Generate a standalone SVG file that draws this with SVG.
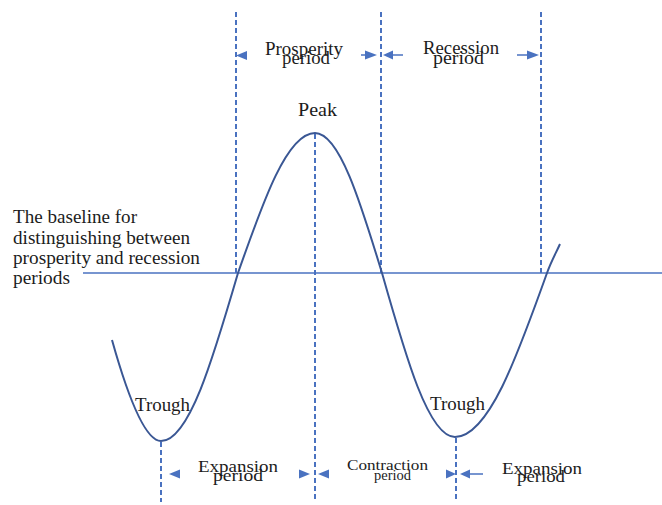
<svg xmlns="http://www.w3.org/2000/svg" width="662" height="505" viewBox="0 0 662 505">
<style>
.t{font-family:"Liberation Serif","Times New Roman",serif;fill:#1c1c1c}
.dash{stroke:#4a72c0;stroke-width:2;stroke-dasharray:5 3;fill:none}
.ah{fill:#4a72c0}
.tl{stroke:#4a72c0;stroke-width:1.5;fill:none}
</style>
<rect width="662" height="505" fill="#ffffff"/>
<g id="guides">
<line class="dash" x1="236" y1="12" x2="236" y2="275"/>
<line class="dash" x1="381" y1="12" x2="381" y2="275"/>
<line class="dash" x1="541" y1="12" x2="541" y2="275"/>
<line class="dash" x1="315" y1="134" x2="315" y2="502"/>
<line class="dash" x1="161" y1="442" x2="161" y2="502"/>
<line class="dash" x1="456" y1="438" x2="456" y2="502"/>
</g>
<g id="baseline">
<line x1="83" y1="273" x2="662" y2="273" stroke="#4a72c0" stroke-width="1.6"/>
</g>
<g id="cycle-curve">
<path d="M112,340 C128,397 145,441 161,441 C188.9,441 212.9,359.1 238,273 C263.1,201.3 287.1,133 315,133 C339.2,133 360.2,201.3 382,273 C405.8,357 428.6,437 455,437 C488.3,437 517,357 547,273 C551.3,261 556,253 560,244" fill="none" stroke="#3a5794" stroke-width="2"/>
</g>
<g id="connectors">
<path class="ah" d="M236,55.5 L247,51 L247,60 Z"/>
<line class="tl" x1="361" y1="55" x2="366" y2="55"/>
<path class="ah" d="M377,55 L365,50.5 L365,59.5 Z"/>
<path class="ah" d="M383,55 L393,50.5 L393,59.5 Z"/>
<line class="tl" x1="392" y1="55" x2="403" y2="55"/>
<line class="tl" x1="517" y1="55" x2="528" y2="55"/>
<path class="ah" d="M539,55 L527,50.5 L527,59.5 Z"/>
<path class="ah" d="M169,474 L180,469.5 L180,478.5 Z"/>
<path class="ah" d="M310,474 L299,469.5 L299,478.5 Z"/>
<path class="ah" d="M318,474 L329,469.5 L329,478.5 Z"/>
<path class="ah" d="M456,474 L446,469.5 L446,478.5 Z"/>
<path class="ah" d="M460,474 L470,469.5 L470,478.5 Z"/>
<line class="tl" x1="469" y1="474" x2="483" y2="474"/>
</g>
<g id="label-prosperity">
<text class="t" x="265" y="55" font-size="18" textLength="78" lengthAdjust="spacingAndGlyphs">Prosperity</text>
<text class="t" x="282" y="64" font-size="18" textLength="48" lengthAdjust="spacingAndGlyphs">period</text>
</g>
<g id="label-recession">
<text class="t" x="423" y="54" font-size="18" textLength="76" lengthAdjust="spacingAndGlyphs">Recession</text>
<text class="t" x="433" y="64" font-size="18" textLength="51" lengthAdjust="spacingAndGlyphs">period</text>
</g>
<g id="label-peak">
<text class="t" x="298" y="116" font-size="18" textLength="39" lengthAdjust="spacingAndGlyphs">Peak</text>
</g>
<g id="label-baseline">
<text class="t" x="13" y="223" font-size="18" textLength="124" lengthAdjust="spacingAndGlyphs">The baseline for</text>
<text class="t" x="13" y="244" font-size="18" textLength="177" lengthAdjust="spacingAndGlyphs">distinguishing between</text>
<text class="t" x="13" y="264" font-size="18" textLength="187" lengthAdjust="spacingAndGlyphs">prosperity and recession</text>
<text class="t" x="13" y="284" font-size="18" textLength="57" lengthAdjust="spacingAndGlyphs">periods</text>
</g>
<g id="label-trough-1">
<text class="t" x="135" y="411" font-size="18" textLength="55" lengthAdjust="spacingAndGlyphs">Trough</text>
</g>
<g id="label-trough-2">
<text class="t" x="430" y="410" font-size="18" textLength="55" lengthAdjust="spacingAndGlyphs">Trough</text>
</g>
<g id="label-expansion-1">
<text class="t" x="198" y="472" font-size="17" textLength="80" lengthAdjust="spacingAndGlyphs">Expansion</text>
<text class="t" x="213" y="481" font-size="17" textLength="50" lengthAdjust="spacingAndGlyphs">period</text>
</g>
<g id="label-contraction">
<text class="t" x="347" y="470" font-size="15.5" textLength="81" lengthAdjust="spacingAndGlyphs">Contraction</text>
<text class="t" x="374" y="479.5" font-size="15.5" textLength="37" lengthAdjust="spacingAndGlyphs">period</text>
</g>
<g id="label-expansion-2">
<text class="t" x="502" y="474" font-size="17" textLength="80" lengthAdjust="spacingAndGlyphs">Expansion</text>
<text class="t" x="517" y="482" font-size="17" textLength="48" lengthAdjust="spacingAndGlyphs">period</text>
</g>
</svg>
